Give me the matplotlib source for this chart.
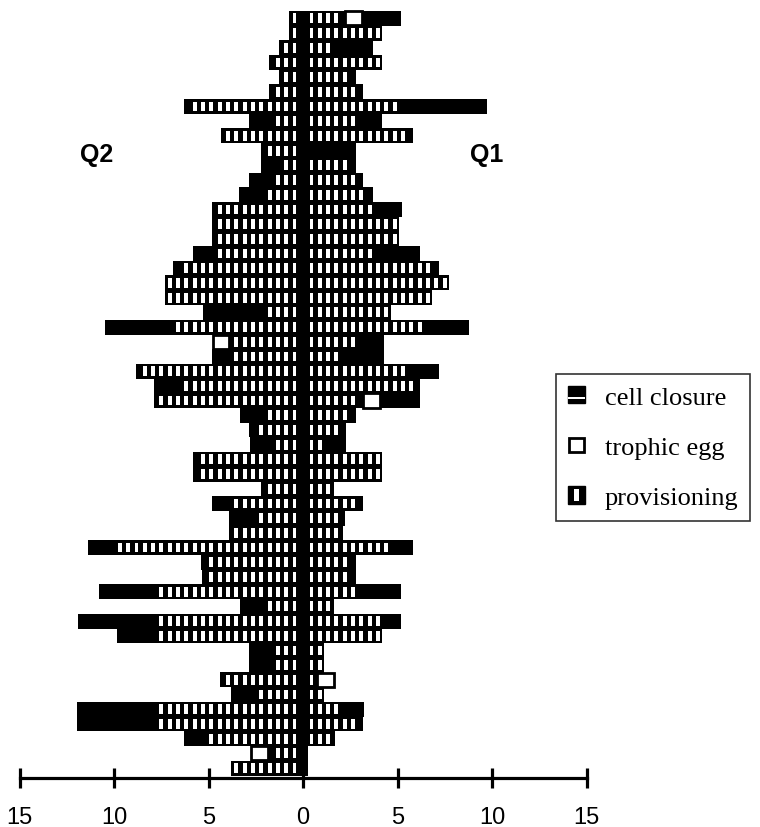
import numpy as np
import matplotlib.pyplot as plt
from matplotlib.patches import Rectangle
from matplotlib.legend_handler import HandlerBase

# durations per nest row, top row first
# Q2 is drawn to the left of zero, Q1 to the right
q2_prov = [0.73, 0.73, 1.27, 1.8, 1.27, 1.8, 6.3, 1.8, 4.35, 2.2,
           1.3, 1.85, 2.2, 4.8, 4.8, 4.8, 4.8, 6.6, 7.3, 7.3,
           2.1, 7.1, 3.9, 3.85, 8.85, 6.6, 7.9, 2.2, 2.6, 1.8,
           5.8, 5.8, 2.2, 3.9, 2.6, 3.9, 10.1, 5.4, 5.35, 7.9,
           2.2, 7.9, 7.9, 1.85, 1.85, 4.4, 2.6, 7.8, 7.8, 5.3,
           1.85, 3.8]
q2_egg = [0, 0, 0, 0, 0, 0, 0, 0, 0, 0,
          0, 0, 0, 0, 0, 0, 0, 0, 0, 0,
          0, 0, 0.85, 0, 0, 0, 0, 0, 0, 0,
          0, 0, 0, 0, 0, 0, 0, 0, 0, 0,
          0, 0, 0, 0, 0, 0, 0, 0, 0, 0,
          0.9, 0]
q2_close = [0, 0, 0, 0, 0, 0, 0, 1.05, 0, 0,
            0.9, 1.0, 1.2, 0, 0, 0, 1.0, 0.3, 0, 0,
            3.2, 3.35, 0, 0.95, 0, 1.3, 0, 1.15, 0.25, 1.0,
            0, 0, 0, 0.9, 1.3, 0, 1.25, 0, 0, 2.9,
            1.15, 4.0, 1.95, 1.0, 1.0, 0, 1.2, 4.15, 4.15, 1.0,
            0, 0]
q1_prov = [2.2, 4.2, 1.5, 4.2, 2.8, 3.2, 5.45, 3.1, 5.8, 0.5,
           2.8, 3.2, 3.7, 4.1, 5.1, 5.1, 4.1, 7.2, 7.75, 6.8,
           4.65, 6.7, 3.15, 2.0, 5.9, 6.2, 3.15, 2.8, 2.3, 1.1,
           4.2, 4.2, 1.65, 3.2, 2.2, 2.1, 4.65, 2.8, 2.8, 3.15,
           1.65, 4.2, 4.2, 1.1, 1.1, 0.75, 1.1, 2.0, 3.2, 1.7,
           0, 0]
q1_egg = [0.9, 0, 0, 0, 0, 0, 0, 0, 0, 0,
          0, 0, 0, 0, 0, 0, 0, 0, 0, 0,
          0, 0, 0, 0, 0, 0, 0.95, 0, 0, 0,
          0, 0, 0, 0, 0, 0, 0, 0, 0, 0,
          0, 0, 0, 0, 0, 0.9, 0, 0, 0, 0,
          0, 0]
q1_close = [2.1, 0, 2.2, 0, 0, 0, 4.3, 1.1, 0, 2.3,
            0, 0, 0, 1.15, 0, 0, 2.1, 0, 0, 0,
            0, 2.1, 1.15, 2.3, 1.3, 0, 2.1, 0, 0, 1.2,
            0, 0, 0, 0, 0, 0, 1.15, 0, 0, 2.05,
            0, 1.0, 0, 0, 0, 0, 0, 1.25, 0, 0,
            0, 0]

tick_vals = [-15, -10, -5, 0, 5, 10, 15]
tick_text = ['15', '10', '5', '0', '5', '10', '15']
legend_labels = ['cell closure', 'trophic egg', 'provisioning']

SLOT_STEP = 0.44   # spacing of the provisioning marks
SLOT_W = 0.21
SLOT_H = 0.66
CORE = (-0.25, 0.53)  # left edge, width of the black core at zero

fig = plt.figure(figsize=(7.6, 8.28), dpi=100)
ax = fig.add_axes([0, 0, 1, 1])

n = len(q1_prov)
rows = np.arange(n) + 0.5

ax.barh(rows, CORE[1], left=CORE[0], height=1.02, color='black', linewidth=0)


def draw_side(sign, prov, egg, close):
    prov = np.asarray(prov, float)
    egg = np.asarray(egg, float)
    close = np.asarray(close, float)
    ax.barh(rows, sign * prov, height=1.02, color='black', linewidth=0)
    ax.barh(rows, sign * close, left=sign * (prov + egg), height=1.02,
            color='black', linewidth=0)
    has_egg = egg > 0
    ax.barh(rows[has_egg], sign * egg[has_egg], left=sign * prov[has_egg],
            height=0.96, color='white', edgecolor='black', linewidth=2)
    # white slots, one per provisioning step
    for r, p in zip(rows, prov):
        centres = np.arange(0.45, p - 0.17, SLOT_STEP)
        if len(centres):
            ax.barh(np.full(len(centres), r), SLOT_W,
                    left=sign * centres - SLOT_W / 2, height=SLOT_H,
                    color='white', linewidth=0)


draw_side(-1, q2_prov, q2_egg, q2_close)
draw_side(1, q1_prov, q1_egg, q1_close)

ax.set_xlim(-303 / 18.9, (760 - 303) / 18.9)
ax.set_ylim((828 - 12) / 14.7, -12 / 14.7)

for side in ['left', 'right', 'top']:
    ax.spines[side].set_visible(False)
ax.spines['bottom'].set_position(('data', (779 - 12) / 14.7))
ax.spines['bottom'].set_bounds(-15, 15)
ax.spines['bottom'].set_linewidth(2.3)
ax.set_yticks([])
ax.set_xticks(tick_vals)
ax.set_xticklabels(tick_text, fontfamily='Liberation Sans')
ax.tick_params(axis='x', direction='inout', length=15, width=2.3,
               pad=13, labelsize=17)
ax.patch.set_visible(False)

fig.text(97 / 760, 1 - 155 / 828, 'Q2', fontsize=18, fontweight='bold',
         fontfamily='Liberation Sans', ha='center', va='center')
fig.text(487 / 760, 1 - 155 / 828, 'Q1', fontsize=18, fontweight='bold',
         fontfamily='Liberation Sans', ha='center', va='center')


class IconHandler(HandlerBase):
    def __init__(self, kind):
        super().__init__()
        self.kind = kind

    def create_artists(self, legend, orig_handle, xdescent, ydescent,
                       width, height, fontsize, trans):
        x0, y0 = -xdescent, -ydescent
        if self.kind == 'egg':
            return [Rectangle((x0 + 1, y0 + 1), width - 2, height - 2,
                              facecolor='white', edgecolor='black',
                              linewidth=2, transform=trans)]
        box = Rectangle((x0, y0), width, height, facecolor='black',
                        edgecolor='black', transform=trans)
        if self.kind == 'prov':
            inner = Rectangle((x0 + width * 0.38, y0 + height * 0.15),
                              width * 0.26, height * 0.7,
                              facecolor='white', linewidth=0, transform=trans)
        else:
            inner = Rectangle((x0, y0 + height * 0.28), width, height * 0.07,
                              facecolor='white', linewidth=0, transform=trans)
        return [box, inner]


handles = [Rectangle((0, 0), 1, 1) for _ in legend_labels]
kinds = ['close', 'egg', 'prov']
leg = ax.legend(handles, legend_labels,
                handler_map={h: IconHandler(k) for h, k in zip(handles, kinds)},
                loc='upper left', bbox_to_anchor=(556 / 760, 1 - 375 / 828),
                bbox_transform=fig.transFigure, borderaxespad=0,
                prop={'family': 'Liberation Serif', 'size': 19},
                frameon=True, fancybox=False, edgecolor='black',
                handlelength=0.65, handleheight=0.65, handletextpad=0.75,
                labelspacing=1.03, borderpad=0.45)
leg.get_frame().set_linewidth(1.2)

fig.savefig('out.png', dpi=100)
